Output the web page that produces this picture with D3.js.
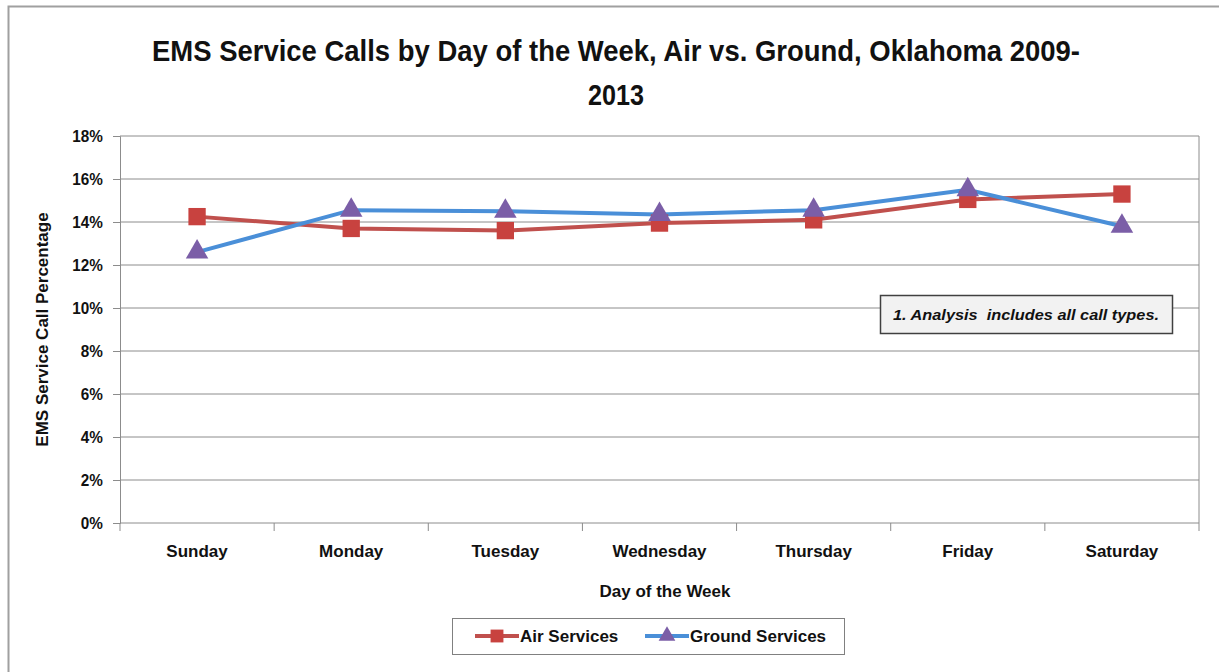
<!DOCTYPE html>
<html>
<head>
<meta charset="utf-8">
<script src="https://cdn.jsdelivr.net/npm/d3@7"></script>
<style>
  body { margin: 0; background: #fff; }
  text { font-family: "Liberation Sans Narrow", "Arial Narrow", "Liberation Sans", Arial, sans-serif; }
</style>
</head>
<body>
<svg width="1219" height="672"></svg>
<script>
const days = ['Sunday', 'Monday', 'Tuesday', 'Wednesday', 'Thursday', 'Friday', 'Saturday'];
const airValues = [14.25, 13.7, 13.6, 13.95, 14.1, 15.05, 15.3];
const groundValues = [12.6, 14.55, 14.5, 14.35, 14.55, 15.5, 13.8];
const yTicks = [0, 2, 4, 6, 8, 10, 12, 14, 16, 18];

const svg = d3.select('svg');
const width = +svg.attr('width');
const height = +svg.attr('height');

const plot = { left: 120, right: 1199, top: 136, bottom: 523 };

const x = d3.scaleBand().domain(days).range([plot.left, plot.right]);
const y = d3.scaleLinear().domain([0, 18]).range([plot.bottom, plot.top]);

// outer frame
svg.append('rect')
    .attr('x', 8.5).attr('y', 6.5)
    .attr('width', width + 10).attr('height', height + 10)
    .attr('fill', 'none').attr('stroke', '#a0a0a0').attr('stroke-width', 2);

// title
const title = svg.append('text')
    .attr('text-anchor', 'middle')
    .attr('font-size', 30).attr('font-weight', 'bold').attr('fill', '#111');
title.append('tspan').attr('x', 616).attr('y', 61)
    .attr('textLength', 928).attr('lengthAdjust', 'spacingAndGlyphs')
    .text('EMS Service Calls by Day of the Week, Air vs. Ground, Oklahoma 2009-');
title.append('tspan').attr('x', 616).attr('y', 105)
    .attr('textLength', 56).attr('lengthAdjust', 'spacingAndGlyphs')
    .text('2013');

// gridlines + y axis
const yAxis = d3.axisLeft(y).tickValues(yTicks).tickSize(7).tickFormat(d => d + '%');
const gy = svg.append('g').attr('transform', `translate(${plot.left},0)`).call(yAxis);
gy.select('.domain').attr('stroke', '#8c8c8c');
gy.selectAll('.tick line').attr('stroke', '#8c8c8c');
gy.selectAll('.tick text').attr('font-size', 17).attr('font-weight', 'bold').attr('fill', '#111')
    .attr('x', -19).attr('transform', 'scale(0.9,1)');

svg.append('g').selectAll('line')
    .data(yTicks.filter(d => d > 0))
    .join('line')
    .attr('x1', plot.left).attr('x2', plot.right)
    .attr('y1', d => y(d)).attr('y2', d => y(d))
    .attr('stroke', '#8c8c8c');

// right plot border
svg.append('line')
    .attr('x1', plot.right).attr('x2', plot.right)
    .attr('y1', plot.top).attr('y2', plot.bottom)
    .attr('stroke', '#8c8c8c');

// x axis, ticks between categories
const gx = svg.append('g').attr('transform', `translate(0,${plot.bottom})`);
gx.append('line').attr('x1', plot.left).attr('x2', plot.right).attr('stroke', '#8c8c8c');
gx.selectAll('line.tk')
    .data(days.concat(['end']))
    .join('line')
    .attr('class', 'tk')
    .attr('x1', (d, i) => plot.left + i * x.bandwidth())
    .attr('x2', (d, i) => plot.left + i * x.bandwidth())
    .attr('y1', 0).attr('y2', 8)
    .attr('stroke', '#8c8c8c');
gx.selectAll('text')
    .data(days)
    .join('text')
    .attr('x', d => x(d) + x.bandwidth() / 2)
    .attr('y', 34)
    .attr('text-anchor', 'middle')
    .attr('font-size', 17).attr('font-weight', 'bold').attr('fill', '#111')
    .text(d => d);

// axis titles
svg.append('text')
    .attr('x', 665).attr('y', 597)
    .attr('text-anchor', 'middle')
    .attr('font-size', 17).attr('font-weight', 'bold').attr('fill', '#111')
    .text('Day of the Week');

svg.append('text')
    .attr('transform', `translate(48,${(plot.top + plot.bottom) / 2}) rotate(-90)`)
    .attr('text-anchor', 'middle')
    .attr('font-size', 17).attr('font-weight', 'bold').attr('fill', '#111')
    .text('EMS Service Call Percentage');

// note box
svg.append('rect')
    .attr('x', 880.5).attr('y', 295.5).attr('width', 292).attr('height', 38)
    .attr('fill', '#f2f2f2').attr('stroke', '#404040').attr('stroke-width', 1.5);
svg.append('text')
    .attr('x', 1026).attr('y', 320)
    .attr('text-anchor', 'middle')
    .attr('xml:space', 'preserve')
    .attr('textLength', 266).attr('lengthAdjust', 'spacingAndGlyphs')
    .attr('font-family', '"Open Sans", "Noto Sans", sans-serif')
    .attr('font-size', 15).attr('font-weight', 'bold').attr('font-style', 'italic').attr('fill', '#111')
    .text('1. Analysis\u00a0 includes all call types.');

// series
const series = [
    { name: 'Air Services', values: airValues, line: '#c0504d', marker: '#c8423f', symbol: d3.symbolSquare, size: 300 },
    { name: 'Ground Services', values: groundValues, line: '#4a8fd8', marker: '#7b5ea7', symbol: d3.symbolTriangle, size: 220 }
];

const line = d3.line()
    .x((d, i) => x(days[i]) + x.bandwidth() / 2)
    .y(d => y(d));

series.forEach(s => {
    svg.append('path')
        .datum(s.values)
        .attr('d', line)
        .attr('fill', 'none')
        .attr('stroke', s.line)
        .attr('stroke-width', 4);
});

series.forEach(s => {
    svg.append('g').selectAll('path')
        .data(s.values)
        .join('path')
        .attr('d', d3.symbol().type(s.symbol).size(s.size))
        .attr('transform', (d, i) => `translate(${x(days[i]) + x.bandwidth() / 2},${y(d)})`)
        .attr('fill', s.marker);
});

// legend
svg.append('rect')
    .attr('x', 452.5).attr('y', 618.5).attr('width', 392).attr('height', 36)
    .attr('fill', '#fff').attr('stroke', '#808080');

const legendX = [475, 645];
series.forEach((s, i) => {
    const g = svg.append('g').attr('transform', `translate(${legendX[i]},636)`);
    g.append('line').attr('x1', 0).attr('x2', 44)
        .attr('stroke', s.line).attr('stroke-width', 4);
    g.append('path')
        .attr('d', d3.symbol().type(s.symbol).size(s.size * 0.55))
        .attr('transform', 'translate(22,0)')
        .attr('fill', s.marker);
    g.append('text')
        .attr('x', 45).attr('y', 6)
        .attr('font-size', 17).attr('font-weight', 'bold').attr('fill', '#111')
        .text(s.name);
});
</script>
</body>
</html>
